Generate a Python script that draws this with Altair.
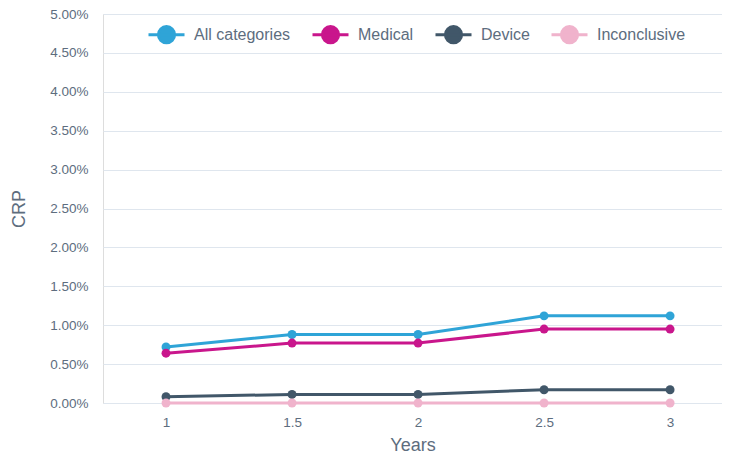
import altair as alt
import pandas as pd

years = [1, 1.5, 2, 2.5, 3]
series = ["All categories", "Medical", "Device", "Inconclusive"]
all_categories = [0.0072, 0.0088, 0.0088, 0.0112, 0.0112]
medical = [0.0064, 0.0077, 0.0077, 0.0095, 0.0095]
device = [0.0008, 0.0011, 0.0011, 0.0017, 0.0017]
inconclusive = [0.0, 0.0, 0.0, 0.0, 0.0]
colors = ["#2fa4d7", "#c9168c", "#415769", "#f0b3cc"]
y_ticks = [i * 0.005 for i in range(11)]

rows = []
for name, vals in zip(series, [all_categories, medical, device, inconclusive]):
    for x, v in zip(years, vals):
        rows.append({"Years": x, "CRP": v, "Series": name})
df = pd.DataFrame(rows)

font = "Liberation Sans"
txt = "#5d6d7e"

color = alt.Color(
    "Series:N",
    scale=alt.Scale(domain=series, range=colors),
    sort=series,
    legend=alt.Legend(
        title=None,
        orient="none",
        legendX=44,
        legendY=1,
        direction="horizontal",
        symbolType="M-1,0L1,0M-0.45,0a0.45,0.45 0 1,0 0.9,0a0.45,0.45 0 1,0 -0.9,0",
        symbolSize=1296,
        symbolStrokeWidth=3,
        labelFontSize=16,
        labelFont=font,
        labelColor=txt,
        columnPadding=15,
        labelOffset=8,
    ),
)

x = alt.X(
    "Years:Q",
    scale=alt.Scale(domain=[0.75, 3.206], nice=False, zero=False),
    axis=alt.Axis(
        values=years,
        format="~g",
        grid=False,
        domain=False,
        ticks=False,
        labelPadding=12,
        labelFontSize=13.5,
        labelFont=font,
        labelColor=txt,
        titleFontSize=18,
        titleFont=font,
        titleColor=txt,
        titleFontWeight="normal",
        titlePadding=8,
    ),
)
y = alt.Y(
    "CRP:Q",
    scale=alt.Scale(domain=[0, 0.05], nice=False),
    axis=alt.Axis(
        values=y_ticks,
        format=".2%",
        grid=True,
        gridColor="#dfe6ee",
        gridWidth=1,
        domain=False,
        ticks=False,
        labelPadding=15,
        labelFontSize=13.5,
        labelFont=font,
        labelColor=txt,
        titleFontSize=18,
        titleFont=font,
        titleColor=txt,
        titleFontWeight="normal",
        titlePadding=21,
    ),
)

base = alt.Chart(df).encode(x=x, y=y, color=color)
lines = base.mark_line(strokeWidth=3)
pts = base.mark_circle(size=80, opacity=1)

chart = (
    alt.layer(lines, pts)
    .properties(
        width=619,
        height=389,
        autosize=alt.AutoSizeParams(type="none"),
        padding={"left": 95, "top": 6, "right": 0, "bottom": 51},
    )
    .configure_view(strokeWidth=0)
    .configure(background="white")
)

chart.save("out.html", embed_options={"renderer": "svg", "actions": False})
